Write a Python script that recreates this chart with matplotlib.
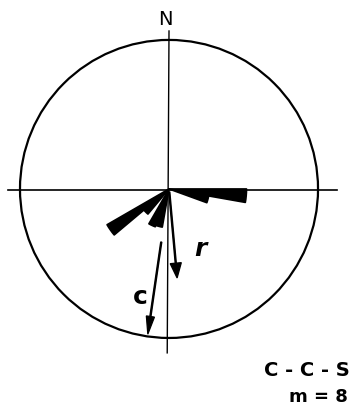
import numpy as np
import matplotlib
matplotlib.use("Agg")
import matplotlib.pyplot as plt
from matplotlib.patches import Wedge, Circle, FancyArrow

# Rose petals: azimuth bins (degrees clockwise from north) and petal lengths
# as a fraction of the reference circle radius.
bin_start = [90, 100, 190, 200, 220, 230]
bin_width = 10
petal_len = [0.52, 0.27, 0.26, 0.27, 0.22, 0.48]

# Mean vectors: azimuth (deg) and length (fraction of circle radius)
vec_names = ["c", "r"]
vec_azimuth = [188.3, 174.8]
vec_length = [0.985, 0.60]
vec_start = [0.36, 0.02]      # where the drawn shaft begins (fraction of radius)

site_label = "C - C - S"
count_label = "m = 8"

fig = plt.figure(figsize=(3.55, 4.08), dpi=100)
ax = fig.add_axes([0, 0, 1, 1])
ax.set_xlim(-1.134, 1.248)
ax.set_ylim(-1.470, 1.268)
ax.set_aspect("equal")
ax.axis("off")

ink = "black"

# reference circle
ax.add_patch(Circle((0, 0), 1.0, fill=False, lw=1.6, color=ink))

# cross hairs
ax.plot([-1.08, 1.128], [-0.005, -0.005], color=ink, lw=1.2)
ax.plot([0.0, -0.012], [1.06, -1.10], color=ink, lw=1.0)

# petals
for a0, L in zip(bin_start, petal_len):
    a1 = a0 + bin_width
    ax.add_patch(Wedge((0, 0), L, 90 - a1, 90 - a0, facecolor=ink,
                       edgecolor=ink, lw=1.2, joinstyle="round"))

# vectors
heads = {"c": (0.055, 0.12), "r": (0.075, 0.10)}
for name, az, L, s in zip(vec_names, vec_azimuth, vec_length, vec_start):
    t = np.deg2rad(az)
    ux, uy = np.sin(t), np.cos(t)
    hw, hl = heads[name]
    ax.add_patch(FancyArrow(s * ux, s * uy, (L - s) * ux, (L - s) * uy,
                            width=0.008, head_width=hw, head_length=hl,
                            length_includes_head=True, color=ink, lw=0.9))

ax.text(-0.195, -0.725, "c", fontsize=18, ha="center", va="center",
        color=ink, fontweight="bold")
ax.text(0.208, -0.40, "r", fontsize=18, ha="center", va="center",
        color=ink, style="italic", fontweight="bold")

ax.text(-0.027, 1.134, "N", fontsize=14, ha="center", va="center", color=ink)

ax.text(0.926, -1.215, site_label, fontsize=14, ha="center", va="center",
        color=ink, fontweight="bold")
ax.text(1.0, -1.396, count_label, fontsize=13, ha="center", va="center",
        color=ink, fontweight="bold")

fig.savefig("out.png", dpi=100, facecolor="white")
